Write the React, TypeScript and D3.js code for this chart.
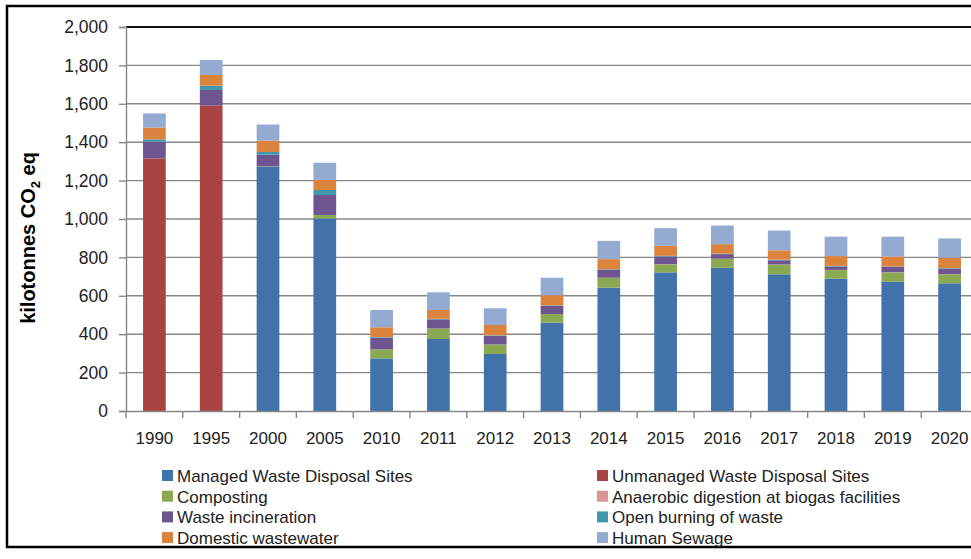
// App.tsx
import React, { useEffect, useRef } from 'react'
import * as d3 from 'd3'

const years = ['1990', '1995', '2000', '2005', '2010', '2011', '2012', '2013', '2014', '2015', '2016', '2017', '2018', '2019', '2020']

const seriesNames = [
  'Managed Waste Disposal Sites',
  'Unmanaged Waste Disposal Sites',
  'Composting',
  'Anaerobic digestion at biogas facilities',
  'Waste incineration',
  'Open burning of waste',
  'Domestic wastewater',
  'Human Sewage'
]

const managed = [0, 0, 1272, 1003, 274, 375, 297, 460, 642, 722, 746, 712, 689, 673, 665]
const unmanaged = [1316, 1590, 0, 0, 0, 0, 0, 0, 0, 0, 0, 0, 0, 0, 0]
const composting = [0, 0, 2, 18, 47, 55, 50, 45, 51, 42, 46, 50, 45, 49, 47]
const anaerobic = [0, 0, 0, 0, 0, 0, 0, 0, 1, 1, 1, 1, 1, 1, 1]
const incineration = [87, 82, 61, 104, 61, 47, 44, 42, 41, 40, 24, 22, 18, 27, 28]
const openBurning = [12, 22, 14, 26, 3, 3, 3, 3, 3, 3, 3, 3, 3, 3, 3]
const domestic = [61, 56, 59, 52, 51, 46, 54, 53, 53, 52, 49, 49, 51, 52, 54]
const sewage = [74, 78, 84, 90, 90, 92, 87, 91, 95, 92, 97, 103, 101, 103, 101]

const yTicks = [0, 200, 400, 600, 800, 1000, 1200, 1400, 1600, 1800, 2000]

const colours = ['#4172AA', '#A94442', '#8BA852', '#DA9694', '#6F5590', '#4297AE', '#DC843E', '#94AAD1']

const font = '"Liberation Sans", Arial, sans-serif'

export default function App() {
  const ref = useRef<SVGSVGElement>(null)

  useEffect(() => {
    const svg = d3.select(ref.current)
    svg.selectAll('*').remove()

    const allSeries = [managed, unmanaged, composting, anaerobic, incineration, openBurning, domestic, sewage]
    const rows = years.map((y, i) => {
      const r: any = { year: y }
      seriesNames.forEach((n, j) => { r[n] = allSeries[j][i] })
      return r
    })

    const x = d3.scaleBand().domain(years).range([126, 126 + 15 * 56.8]).paddingInner(0.6).paddingOuter(0.3)
    const y = d3.scaleLinear().domain([0, 2000]).range([411, 27])
    const colour = d3.scaleOrdinal<string>().domain(seriesNames).range(colours)

    // frame
    svg.append('rect')
      .attr('x', 7).attr('y', 6).attr('width', 990).attr('height', 541)
      .attr('fill', 'white').attr('stroke', 'black').attr('stroke-width', 2.5)

    // gridlines
    svg.append('g').selectAll('line')
      .data(yTicks.slice(1))
      .enter().append('line')
      .attr('x1', 126).attr('x2', 990)
      .attr('y1', d => y(d)).attr('y2', d => y(d))
      .attr('stroke', d => d === 2000 ? '#111' : '#878787')
      .attr('stroke-width', d => d === 2000 ? 2.2 : 1.4)

    // y axis
    const yAxis = svg.append('g')
      .attr('transform', 'translate(126,0)')
      .call(d3.axisLeft(y).tickValues(yTicks).tickSize(7).tickPadding(11).tickFormat(d3.format(',')))
    yAxis.select('.domain').attr('stroke', '#878787').attr('stroke-width', 1.4)
    yAxis.selectAll('.tick line').attr('stroke', '#878787').attr('stroke-width', 1.4)
    yAxis.selectAll('text').attr('font-family', font).attr('font-size', 17.5).attr('fill', '#222')

    // bars
    const stack = d3.stack().keys(seriesNames)
    svg.append('g').selectAll('g')
      .data(stack(rows))
      .enter().append('g')
      .attr('fill', d => colour(d.key))
      .selectAll('rect')
      .data(d => d)
      .enter().append('rect')
      .attr('x', (d: any) => x(d.data.year) as number)
      .attr('width', x.bandwidth())
      .attr('y', d => y(d[1]))
      .attr('height', d => y(d[0]) - y(d[1]))

    // x axis
    const xAxis = svg.append('g')
      .attr('transform', 'translate(0,411)')
      .call(d3.axisBottom(x).tickSize(0).tickPadding(21))
    xAxis.select('.domain').attr('stroke', '#878787').attr('stroke-width', 1.4)
    xAxis.selectAll('text').attr('font-family', font).attr('font-size', 17).attr('fill', '#222')
    svg.append('g').selectAll('line')
      .data(years)
      .enter().append('line')
      .attr('x1', d => (x(d) as number) - x.step() * 0.3)
      .attr('x2', d => (x(d) as number) - x.step() * 0.3)
      .attr('y1', 411).attr('y2', 418)
      .attr('stroke', '#878787').attr('stroke-width', 1.4)

    // y title
    const title = svg.append('text')
      .attr('transform', 'translate(35,238) rotate(-90)')
      .attr('text-anchor', 'middle')
      .attr('font-family', font).attr('font-size', 20).attr('font-weight', 'bold')
    title.append('tspan').text('kilotonnes CO')
    title.append('tspan').attr('font-size', 13).attr('dy', 5).text('2')
    title.append('tspan').attr('dy', -5).text(' eq')

    // legend
    const legend = svg.append('g').selectAll('g')
      .data(seriesNames)
      .enter().append('g')
      .attr('transform', (d, i) => `translate(${i % 2 === 0 ? 162 : 597},${482 + Math.floor(i / 2) * 20.7})`)
    legend.append('rect')
      .attr('x', 0).attr('y', -12).attr('width', 11).attr('height', 11)
      .attr('fill', d => colour(d))
    legend.append('text')
      .attr('x', 15).attr('y', 0)
      .attr('font-family', font).attr('font-size', 17).attr('fill', '#222')
      .text(d => d)
  }, [])

  return (
    <svg ref={ref} width={971} height={559} style={{ position: 'absolute', left: 0, top: 0 }} />
  )
}
